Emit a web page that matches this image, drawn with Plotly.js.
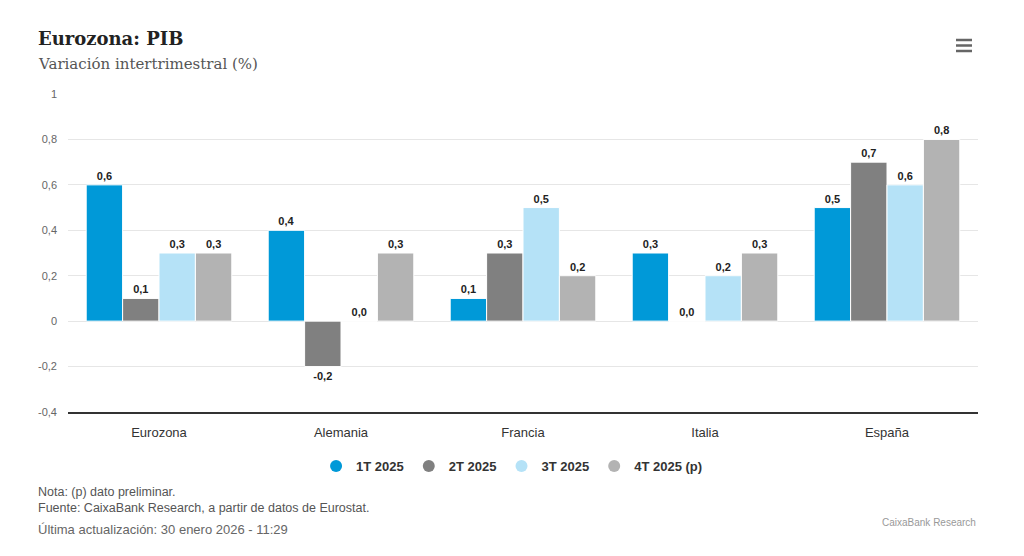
<!DOCTYPE html>
<html>
<head>
<meta charset="utf-8">
<script src="https://cdn.plot.ly/plotly-3.0.1.min.js"></script>
<style>html,body{margin:0;padding:0;background:#fff;}#chart{width:1024px;height:556px;}</style>
</head>
<body>
<div id="chart"></div>
<script>
const categories = ['Eurozona', 'Alemania', 'Francia', 'Italia', 'España'];
const seriesNames = ['1T 2025', '2T 2025', '3T 2025', '4T 2025 (p)'];
const q1 = [0.6, 0.4, 0.1, 0.3, 0.5];
const q2 = [0.1, -0.2, 0.3, 0.0, 0.7];
const q3 = [0.3, 0.0, 0.5, 0.2, 0.6];
const q4 = [0.3, 0.3, 0.2, 0.3, 0.8];
const seriesColors = ['#0099d8', '#808080', '#b5e2f7', '#b3b3b3'];
const tickVals = [-0.4, -0.2, 0, 0.2, 0.4, 0.6, 0.8, 1];
const tickText = ['-0,4', '-0,2', '0', '0,2', '0,4', '0,6', '0,8', '1'];

const fmt = v => v.toFixed(1).replace('.', ',');
const allSeries = [q1, q2, q3, q4];
const traces = [];
allSeries.forEach((vals, i) => {
  traces.push({
    type: 'bar', x: categories, y: vals, name: seriesNames[i], showlegend: false,
    marker: {color: seriesColors[i], line: {color: '#ffffff', width: 1}},
    text: vals.map(fmt), textposition: 'outside', cliponaxis: false,
    textfont: {family: 'Liberation Sans, Arial, sans-serif', size: 11, color: '#222222', weight: 'bold'},
    hoverinfo: 'none'
  });
});
seriesNames.forEach((n, i) => {
  traces.push({
    type: 'scatter', mode: 'markers', x: [null], y: [null], name: n,
    marker: {color: seriesColors[i], size: 12, symbol: 'circle'}, hoverinfo: 'none'
  });
});

const layout = {
  width: 1024, height: 556,
  margin: {l: 68, r: 46, t: 94, b: 144, autoexpand: false},
  paper_bgcolor: '#ffffff', plot_bgcolor: '#ffffff',
  barmode: 'group', bargap: 0.2, bargroupgap: 0,
  font: {family: 'Liberation Sans, Arial, sans-serif', color: '#333333'},
  xaxis: {
    showgrid: false, showline: true, linecolor: '#333333', linewidth: 1.5,
    ticks: '', tickfont: {size: 13, color: '#333333'}, ticklabelstandoff: 8, fixedrange: true
  },
  yaxis: {
    range: [-0.4, 1], tickvals: tickVals, ticktext: tickText,
    showgrid: true, gridcolor: '#e6e6e6', zeroline: false,
    tickfont: {size: 11, color: '#666666'}, ticklabelstandoff: 10, fixedrange: true
  },
  showlegend: true,
  legend: {
    orientation: 'h', x: 0.488, xanchor: 'center', y: -0.17, yanchor: 'middle',
    font: {size: 13, color: '#333333', weight: 'bold'}, itemsizing: 'constant'
  },
  annotations: [
    {text: 'Eurozona: PIB', xref: 'paper', yref: 'paper', x: -0.033, y: 1.176, xanchor: 'left', yanchor: 'middle', showarrow: false,
     font: {family: 'DejaVu Serif, Georgia, serif', size: 18, color: '#222222', weight: 'bold'}, xshift: -2},
    {text: 'Variación intertrimestral (%)', xref: 'paper', yref: 'paper', x: -0.033, y: 1.093, xanchor: 'left', yanchor: 'middle', showarrow: false,
     font: {family: 'DejaVu Serif, Georgia, serif', size: 15, color: '#555555'}, xshift: -2},
    {text: 'Nota: (p) dato preliminar.<br>Fuente: CaixaBank Research, a partir de datos de Eurostat.', align: 'left',
     xref: 'paper', yref: 'paper', x: -0.033, y: -0.278, xanchor: 'left', yanchor: 'middle', showarrow: false,
     font: {size: 12.5, color: '#555555'}, xshift: -2},
    {text: 'Última actualización: 30 enero 2026 - 11:29', xref: 'paper', yref: 'paper', x: -0.033, y: -0.37, xanchor: 'left', yanchor: 'middle', showarrow: false,
     font: {size: 13, color: '#666666'}, xshift: -2},
    {text: 'CaixaBank Research', xref: 'paper', yref: 'paper', x: 1.0, y: -0.346, xanchor: 'right', yanchor: 'middle', showarrow: false,
     font: {size: 10, color: '#999999'}}
  ],
  shapes: [40, 45.5, 51].map(py => ({
    type: 'line', xref: 'paper', yref: 'paper',
    x0: (956 - 68) / 910, x1: (972 - 68) / 910,
    y0: (412 - py) / 318, y1: (412 - py) / 318,
    line: {color: '#666666', width: 2.5}
  }))
};

Plotly.newPlot('chart', traces, layout, {displayModeBar: false, staticPlot: true});
</script>
</body>
</html>
